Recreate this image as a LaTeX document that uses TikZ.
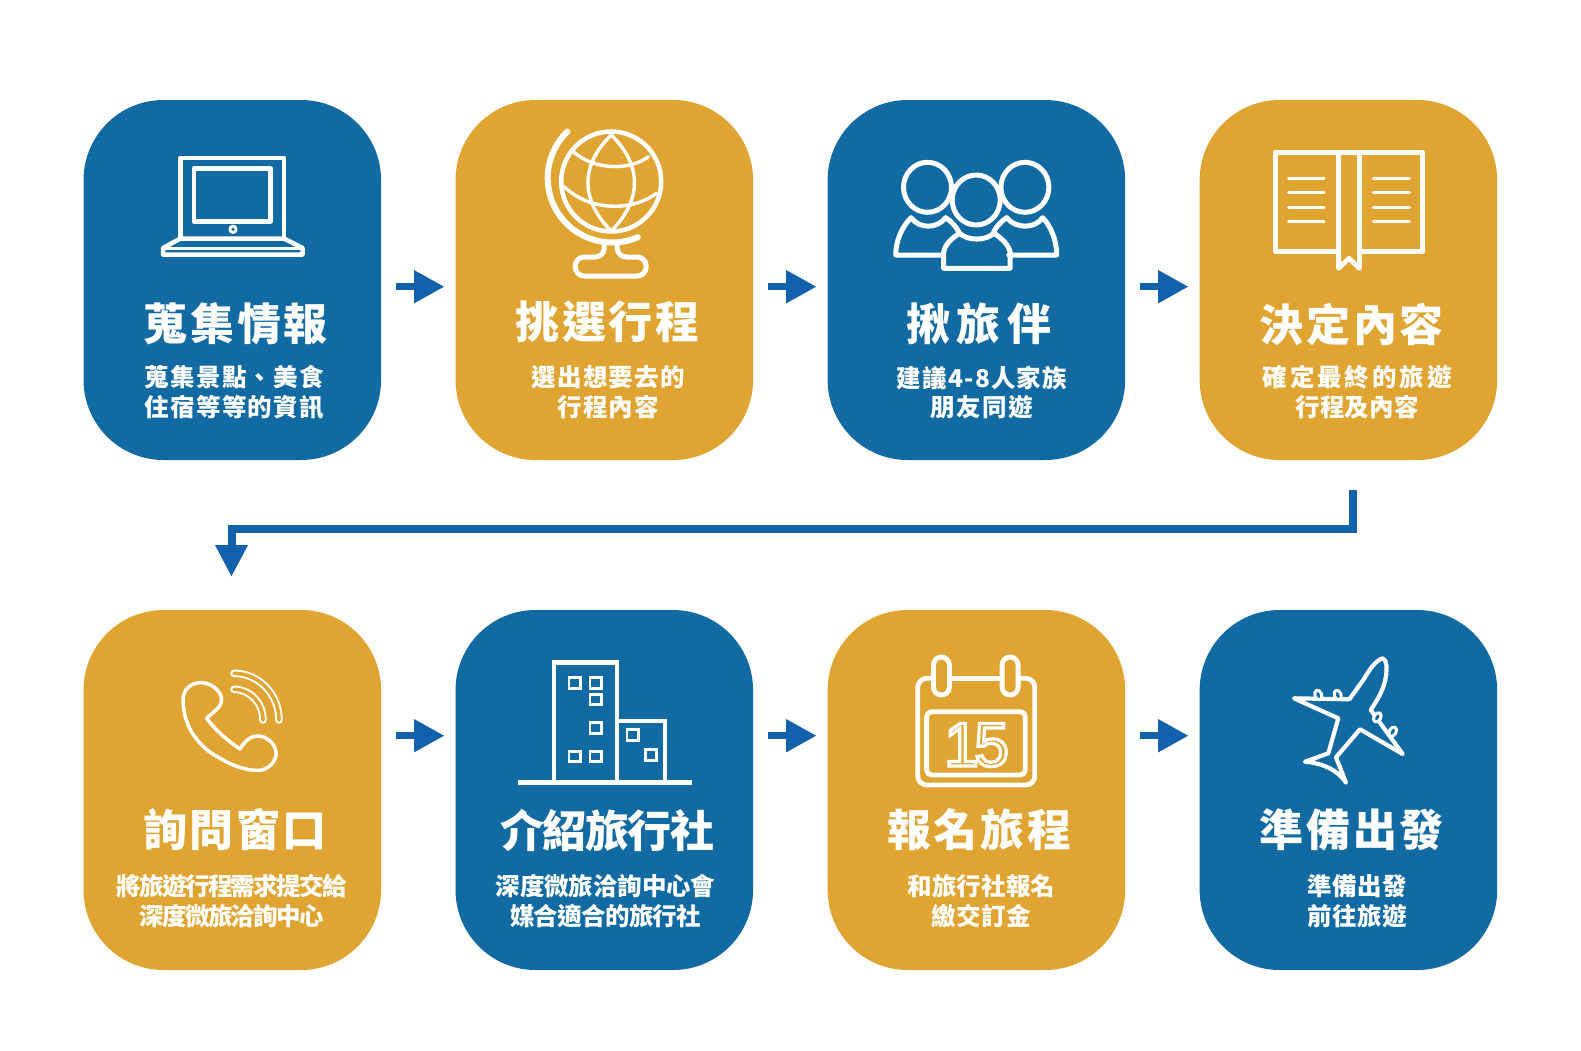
\documentclass[tikz,border=0pt]{standalone}
\usepackage{fontspec}
\setmainfont{Noto Sans CJK TC}
\newfontfamily\digitfont{Liberation Sans}
\usetikzlibrary{arrows.meta,calc}
\definecolor{boxblue}{HTML}{116AA2}
\definecolor{boxgold}{HTML}{E0A433}
\definecolor{flowblue}{HTML}{1261AD}
\newcommand{\tracked}[2]{{\addfontfeature{LetterSpace=#1}#2}}
\tikzset{
  stagebox/.style={rounded corners=80pt,minimum width=297.5pt,minimum height=360pt,inner sep=0pt,outer sep=0pt},
  bluebox/.style={stagebox,fill=boxblue},
  goldbox/.style={stagebox,fill=boxgold},
  flow/.style={draw=flowblue,line width=7.5pt,-{Triangle[length=30.5pt,width=31pt]}},
  titletext/.style={text=white,inner sep=0pt,font=\fontsize{44}{50}\selectfont\bfseries},
  subtext/.style={text=white,inner sep=0pt,align=center,font=\fontsize{24.5}{29.6}\selectfont\bfseries},
  icon/.style={draw=white,line width=#1,line join=round,line cap=round},
  icon/.default=4pt
}
\begin{document}
\begin{tikzpicture}[x=1pt,y=-1pt]
\useasboundingbox (0,0) rectangle (1581,1050);
\fill[white] (0,0) rectangle (1581,1050);
% stage boxes
\node[bluebox] (b1) at (232.3,280) {};
\node[goldbox] (b2) at (604.3,280) {};
\node[bluebox] (b3) at (976.4,280) {};
\node[goldbox] (b4) at (1348.4,280) {};
\node[goldbox] (b5) at (232.3,790) {};
\node[bluebox] (b6) at (604.3,790) {};
\node[goldbox] (b7) at (976.4,790) {};
\node[bluebox] (b8) at (1348.4,790) {};
% connectors
\draw[flow] ($(b1.east)+(15.4,6.7)$) -- ($(b2.west)+(-11,6.7)$);
\draw[flow] ($(b2.east)+(15.4,6.7)$) -- ($(b3.west)+(-11,6.7)$);
\draw[flow] ($(b3.east)+(15,6.7)$) -- ($(b4.west)+(-11,6.7)$);
\draw[flow] ($(b5.east)+(15.4,-54.3)$) -- ($(b6.west)+(-11,-54.3)$);
\draw[flow] ($(b6.east)+(15.4,-54.3)$) -- ($(b7.west)+(-11,-54.3)$);
\draw[flow] ($(b7.east)+(15,-54.3)$) -- ($(b8.west)+(-11,-54.3)$);
\coordinate (turn) at (800,528.5);
\draw[flow,line width=8pt,-{Triangle[length=32pt,width=30.5pt]}] ($(b4.south)+(4.4,30)$) |- (turn) -| ($(b5.north)+(-0.8,-33)$);
% titles
\node[titletext] (t1) at (235.9,324) {\tracked{6}{蒐集情報}};
\node[titletext] (t2) at (607.6,322) {\tracked{6}{挑選行程}};
\node[titletext] (t3) at (979,324) {\tracked{15}{揪旅伴}};
\node[titletext] (t4) at (1351.8,324) {\tracked{6}{決定內容}};
\node[titletext] (t5) at (235,830) {\tracked{6}{詢問窗口}};
\node[titletext] (t6) at (607.4,830) {\tracked{-3.4}{介紹旅行社}};
\node[titletext] (t7) at (979.3,830) {\tracked{6}{報名旅程}};
\node[titletext] (t8) at (1351.8,830) {\tracked{6}{準備出發}};
% descriptions
\node[subtext] (s1) at (234.4,392.5) {\tracked{5}{蒐集景點、美食}\\\tracked{5}{住宿等等的資訊}};
\node[subtext] (s2) at (608.2,392) {\tracked{5}{選出想要去的}\\\tracked{5}{行程內容}};
\node[subtext] (s3) at (982,392.5) {\tracked{5}{建議4-8人家族}\\\tracked{6}{朋友同遊}};
\node[subtext] (s4) at (1357.2,392.5) {\tracked{12}{確定最終的旅遊}\\\tracked{1}{行程及內容}};
\node[subtext] (s5) at (231.7,901) {\tracked{-6.8}{將旅遊行程需求提交給}\\\tracked{-6.8}{深度微旅洽詢中心}};
\node[subtext] (s6) at (605.6,901) {\tracked{-0.5}{深度微旅洽詢中心會}\\\tracked{-3}{媒合適合的旅行社}};
\node[subtext] (s7) at (981.5,901) {\tracked{0.5}{和旅行社報名}\\\tracked{2}{繳交訂金}};
\node[subtext] (s8) at (1357.2,901) {\tracked{1}{準備出發}\\\tracked{1}{前往旅遊}};
% laptop
\begin{scope}[icon=4.5pt]
\draw (180.5,238) -- (180.5,158) -- (284,158) -- (284,238);
\draw (194,168.7) rectangle (270.5,221.3);
\draw[line width=2.8pt] (233,229.3) circle[radius=3.2];
\draw (180.5,238.5) -- (284,238.5) -- (302.5,248) -- (302.5,254.5) -- (163,254.5) -- (163,248) -- cycle;
\draw[line width=3pt] (163,248) -- (302.5,248);
\end{scope}
% globe
\begin{scope}[icon=4.5pt,xshift=-0.8pt]
\draw (612,181.5) circle[radius=50];
\draw[line width=6pt] plot[domain=226:66.5,samples=50,variable=\a] ({613+64.5*cos(\a)},{178+64.5*sin(\a)});
\draw[line width=3.4pt] (612,135) .. controls (581,165) and (581,200) .. (612,231);
\draw[line width=3.4pt] (612,135) .. controls (643,165) and (643,200) .. (612,231);
\draw[line width=3.4pt] (575,152.3) .. controls (595,170) and (630,171) .. (649.3,156.7);
\draw[line width=3.4pt] (565,186.7) .. controls (590,211) and (632,212) .. (657.3,193.3);
\draw[line width=5pt,rounded corners=9pt] (605,246) -- (605,257) -- (576,257) -- (576,276) -- (647,276) -- (647,257) -- (618,257) -- (618,246);
\end{scope}
% people
\begin{scope}[icon=5pt,xshift=-0.3pt]
\draw (927.8,187.3) ellipse[x radius=24,y radius=25];
\draw (1025.2,187.3) ellipse[x radius=24,y radius=25];
\draw (976.5,200) ellipse[x radius=24,y radius=25];
\draw (944,255) -- (896,255) .. controls (896,240) and (903,226) .. (911.3,217.7) .. controls (920,229) and (937,229) .. (946,217.7) .. controls (951,221) and (956,226) .. (959,231.7);
\draw (1009,255) -- (1057,255) .. controls (1057,240) and (1051,226) .. (1043,217.7) .. controls (1035,229) and (1016,229) .. (1007,217.7) .. controls (1002,221) and (997,226) .. (994,231.7);
\draw (944,268.3) -- (944,252) .. controls (945,245) and (952,238) .. (960,233.3) .. controls (968,241) and (986,241) .. (994,233.3) .. controls (1002,238) and (1009,245) .. (1010.4,252) -- (1010.4,268.3) -- cycle;
\end{scope}
% book
\begin{scope}[icon=4.8pt,xshift=-1pt]
\draw (1339.6,251.7) -- (1276.5,251.7) -- (1276.5,152.5) -- (1423.5,152.5) -- (1423.5,251.7) -- (1360.4,251.7);
\draw (1339.6,152.5) -- (1339.6,268.3) -- (1350,258.3) -- (1360.4,268.3) -- (1360.4,152.5);
\draw[line width=3.2pt] (1289.6,178.3) -- (1325,178.3) (1289.6,192.7) -- (1325,192.7) (1289.6,207.3) -- (1325,207.3) (1289.6,221.7) -- (1325,221.7);
\draw[line width=3.2pt] (1374.3,178.3) -- (1410.4,178.3) (1374.3,192.7) -- (1410.4,192.7) (1374.3,207.3) -- (1410.4,207.3) (1374.3,221.7) -- (1410.4,221.7);
\end{scope}
% phone
\begin{scope}[icon=3.5pt]
\draw (206.7,718.3) .. controls (215,710) and (224,706) .. (221,696) .. controls (218,688) and (208,682) .. (200,682.7) .. controls (190,683) and (183,690) .. (183,700) .. controls (183,712) and (187,727) .. (195,737) .. controls (201,745) and (208,752) .. (218,757) .. controls (232,766) and (250,772) .. (262,770) .. controls (270,768) and (277,760) .. (276,752) .. controls (275,743) and (266,736) .. (258,736) .. controls (250,736) and (244,742) .. (240,749) .. controls (228,741) and (215,730) .. (206.7,718.3) -- cycle;
\draw[line width=7.5pt] (234,673.3) .. controls (258.6,673.3) and (279,694) .. (279,720);
\draw[draw=boxgold,line width=3.6pt] (234,673.3) .. controls (258.6,673.3) and (279,694) .. (279,720);
\draw[line width=7.5pt] (234,689.3) .. controls (250,689.3) and (263,703) .. (263,720);
\draw[draw=boxgold,line width=3.6pt] (234,689.3) .. controls (250,689.3) and (263,703) .. (263,720);
\end{scope}
% buildings
\begin{scope}[icon=4.6pt,line cap=butt,line join=miter,xshift=-1.2pt]
\draw (555,782.7) -- (555,662.3) -- (618.3,662.3) -- (618.3,782.7);
\draw (618.3,721) -- (666,721) -- (666,782.7);
\draw (519,782.7) -- (693,782.7);
\foreach \cx/\cy in {576/683,597/683,597/699.3,597/728,576/756.3,597/756.3,634/735,652.2/755}
  \draw[line width=2.8pt] ($(\cx,\cy)+(-5.8,-5.2)$) rectangle ($(\cx,\cy)+(5.8,5.2)$);
\end{scope}
% calendar
\begin{scope}[icon=4.8pt,xshift=-1.2pt]
\draw[rounded corners=9pt] (934,678.3) -- (919,678.3) -- (919,785) -- (1036,785) -- (1036,678.3) -- (1020,678.3);
\draw (951,678.3) -- (1003,678.3);
\draw (934.6,665) arc[start angle=180,end angle=360,radius=8] -- (950.6,687) arc[start angle=0,end angle=180,radius=8] -- cycle;
\draw (1003.3,665) arc[start angle=180,end angle=360,radius=8] -- (1019.3,687) arc[start angle=0,end angle=180,radius=8] -- cycle;
\draw[rounded corners=5pt] (927.8,745) -- (927.8,711.7) -- (1026.5,711.7) -- (1026.5,775) -- (927.8,775) -- cycle;
\end{scope}
\node[text=white,inner sep=0pt,font=\digitfont\fontsize{62}{62}\selectfont] (day) at (976.5,745) {\special{pdf:code q 1 Tr 3.2 w 1 1 1 RG}\tracked{-7}{15}\special{pdf:code Q}};
% plane
\begin{scope}[icon=4.2pt]
\draw (1382.7,658.3) .. controls (1387,660) and (1387,668) .. (1386,676) .. controls (1384,690) and (1377,700) .. (1370.7,710) -- (1402.7,754) -- (1360,729.3) -- (1336,757.3) -- (1346,782.7) .. controls (1338,770) and (1322,763) .. (1305,761.7) -- (1328.3,753.3) -- (1338.3,718.3) -- (1294,698.3) -- (1349.3,699.3) -- (1363.3,680) .. controls (1369,670) and (1376,660) .. (1382.7,658.3) -- cycle;
\foreach \ex/\ey/\er in {1318.3/695/20,1337.7/695/20,1377.3/717.3/-30,1392.7/731.7/-30}
  \draw[line width=3pt,fill=boxblue] (\ex,\ey) ellipse[x radius=3.4,y radius=5,rotate=\er];
\end{scope}
\end{tikzpicture}
\end{document}
